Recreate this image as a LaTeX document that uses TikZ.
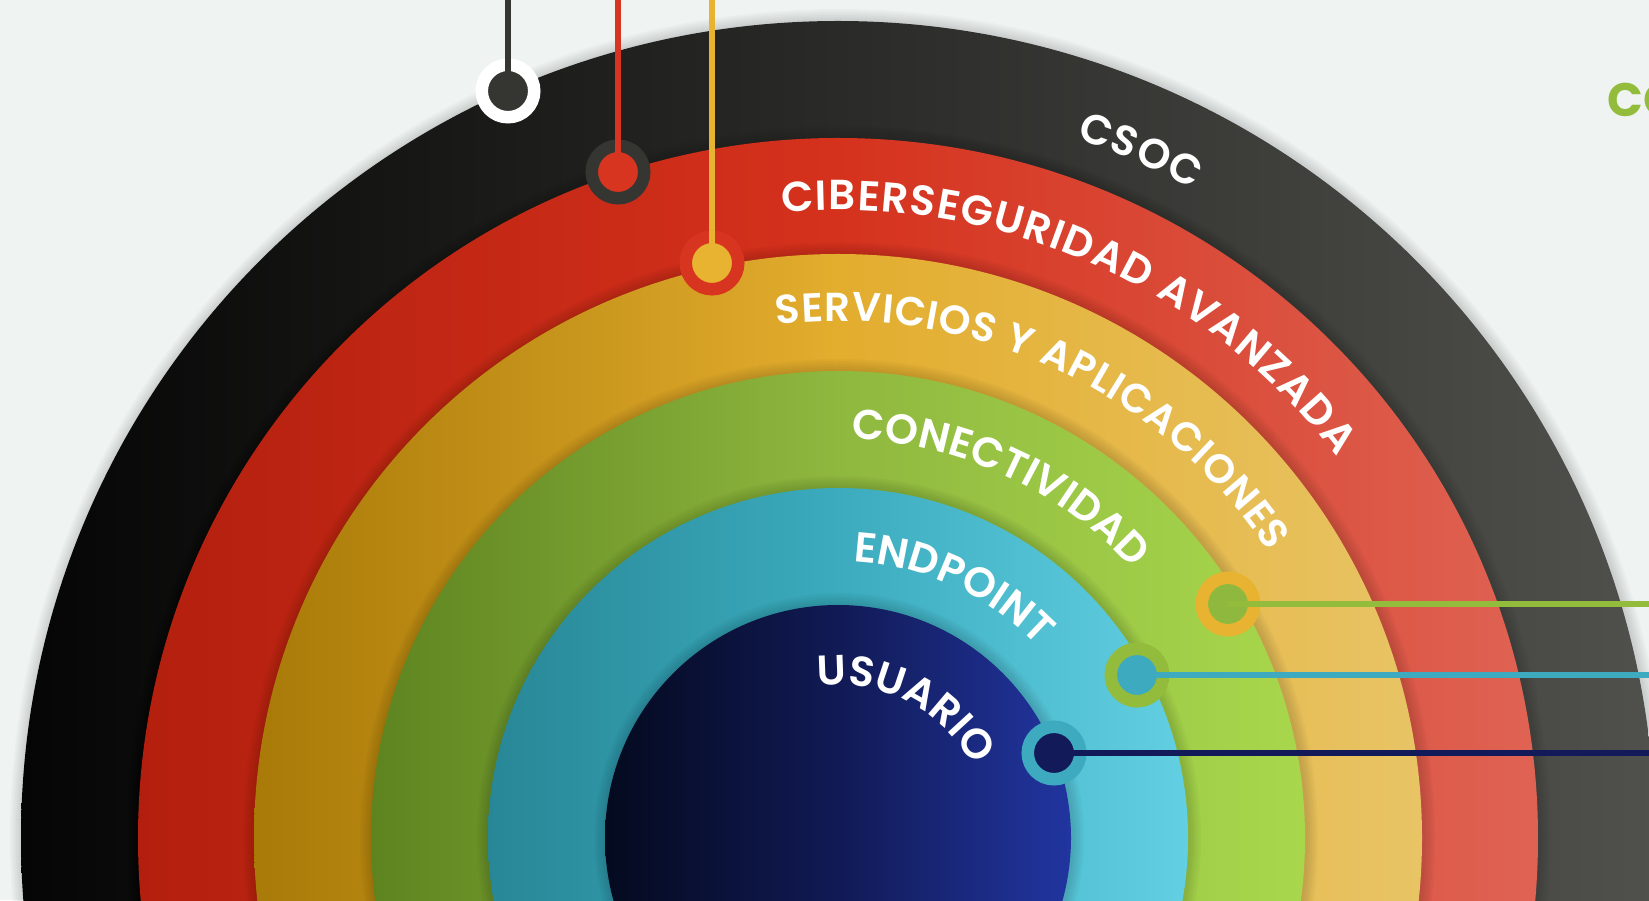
\documentclass[tikz,border=0pt]{standalone}
\usepackage{fontspec}
\setmainfont{Poppins}
\newfontfamily\popsb{Poppins SemiBold}
\usetikzlibrary{decorations.text}
\definecolor{bg}{HTML}{EFF3F2}
\definecolor{blkL}{HTML}{050505}\definecolor{blkM}{HTML}{2A2B28}\definecolor{blkR}{HTML}{50514C}
\definecolor{redL}{HTML}{B31F0E}\definecolor{redM}{HTML}{D5321D}\definecolor{redR}{HTML}{DF6353}
\definecolor{yelL}{HTML}{A97A08}\definecolor{yelM}{HTML}{E3AD2E}\definecolor{yelR}{HTML}{E8C465}
\definecolor{grnL}{HTML}{5E8420}\definecolor{grnM}{HTML}{8FB83F}\definecolor{grnR}{HTML}{A8D74C}
\definecolor{bluL}{HTML}{288796}\definecolor{bluM}{HTML}{3BABBD}\definecolor{bluR}{HTML}{62D0E2}
\definecolor{navL}{HTML}{040A1E}\definecolor{navM}{HTML}{111A55}\definecolor{navR}{HTML}{2135A0}
\definecolor{cdark}{HTML}{353631}
\definecolor{cred}{HTML}{D83520}
\definecolor{cyel}{HTML}{E8B330}
\definecolor{cgrn}{HTML}{93BC3C}
\definecolor{cblu}{HTML}{3EAABF}
\definecolor{cnav}{HTML}{121A5A}
\tikzset{
  dotmk/.style 2 args={circle, inner sep=0pt, minimum size=52.5pt, line width=12.5pt, draw=#1, fill=#2},
  conn/.style={line width=5.5pt, draw=#1},
  arclabel/.style 2 args={decorate, decoration={text along path, text align={fit to path}, text color=white,
     text={|\popsb\fontsize{#1}{#1}\selectfont|#2}}}
}
\begin{document}
\begin{tikzpicture}[x=1pt,y=1pt]
\useasboundingbox (0,0) rectangle (1649,900);
\fill[bg] (0,0) rectangle (1649,900);
\coordinate (O) at (838,62);
\begin{scope}
\clip (0,0) rectangle (1649,900);
\foreach \r/\cl/\cm/\cr in {817/blkL/blkM/blkR, 700/redL/redM/redR, 584/yelL/yelM/yelR,
   467/grnL/grnM/grnR, 350/bluL/bluM/bluR, 233/navL/navM/navR}{
  \foreach \k in {1,...,6}{\fill[black, opacity=0.022] ([xshift=1pt]O) circle ({\r+2*\k});}
  \shade[left color=\cl, right color=\cr, middle color=\cm] (O) circle (\r);
}
% ring labels
\path[arclabel={42}{CSOC}] ([shift={(71.2:739)}]O) arc[start angle=71.2, end angle=61.3, radius=739];
\path[arclabel={42}{CIBERSEGURIDAD AVANZADA}] ([shift={(95.1:628)}]O) arc[start angle=95.1, end angle=37.4, radius=628];
\path[arclabel={40.5}{SERVICIOS Y APLICACIONES}] ([shift={(96.8:517)}]O) arc[start angle=96.8, end angle=33.6, radius=517];
\path[arclabel={42}{CONECTIVIDAD}] ([shift={(88.1:399)}]O) arc[start angle=88.1, end angle=43.4, radius=399];
\path[arclabel={42}{ENDPOINT}] ([shift={(86.9:277)}]O) arc[start angle=86.9, end angle=44.2, radius=277];
\path[arclabel={42}{USUARIO}] ([shift={(97.5:153)}]O) arc[start angle=97.5, end angle=32.8, radius=153];
% markers
\node[dotmk={white}{cdark}] (m1) at (508,809) {};
\node[dotmk={cdark}{cred}] (m2) at (618,728) {};
\node[dotmk={cred}{cyel}] (m3) at (712,637) {};
\node[dotmk={cyel}{grnM}] (m4) at (1228,296) {};
\node[dotmk={cgrn}{cblu}] (m5) at (1137,225) {};
\node[dotmk={cblu}{cnav}] (m6) at (1054,147) {};
\coordinate (t1) at (508,900);
\coordinate (t2) at (618,900);
\coordinate (t3) at (712,900);
\coordinate (t4) at (1649,296);
\coordinate (t5) at (1649,225);
\coordinate (t6) at (1649,147);
\draw[conn=cdark] (m1.center) -- (t1);
\draw[conn=cred] (m2.center) -- (t2);
\draw[conn=cyel] (m3.center) -- (t3);
\draw[conn=cgrn] (m4.center) -- (t4);
\draw[conn=cblu] (m5.center) -- (t5);
\draw[conn=cnav] (m6.center) -- (t6);
% cut-off title at the right edge
\node[anchor=base west, inner sep=0pt, text=cgrn, font=\bfseries\fontsize{47}{47}\selectfont] (ttl) at (1607,783) {CO};
\end{scope}
\end{tikzpicture}
\end{document}
